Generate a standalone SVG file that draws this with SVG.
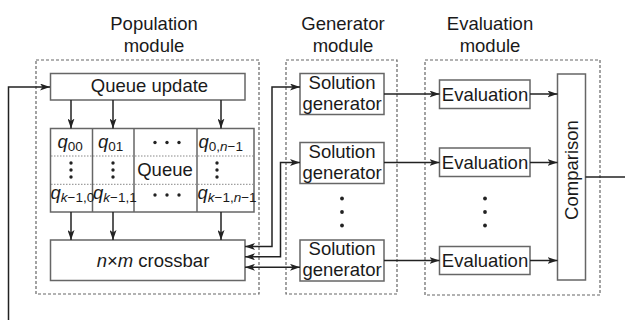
<svg xmlns="http://www.w3.org/2000/svg" width="625" height="320" viewBox="0 0 625 320">
  <defs>
    <marker id="arrow" viewBox="0 0 10 7" refX="10" refY="3.5" markerWidth="10" markerHeight="7" markerUnits="userSpaceOnUse" orient="auto-start-reverse">
      <path d="M0,0 L10,3.5 L0,7 L2.5,3.5 z" fill="#222"/>
    </marker>
    <style>
      text { font-family: "Liberation Sans", Arial, sans-serif; font-size: 18.5px; fill: #1a1a1a; }
      .mid { text-anchor: middle; }
      .box { fill: #fff; stroke: #666; stroke-width: 1.5; }
      .module { fill: none; stroke: #666; stroke-width: 1.2; stroke-dasharray: 3 2; }
      .grid { fill: none; stroke: #666; stroke-width: 1.5; }
      .row { fill: none; stroke: #888; stroke-width: 1; stroke-dasharray: 1.5 1.5; }
      .wire { fill: none; stroke: #222; stroke-width: 1.5; }
      .arr { marker-end: url(#arrow); }
      .both { marker-start: url(#arrow); marker-end: url(#arrow); }
      .dot { fill: #222; }
      .sub { font-size: 13.5px; }
      .it { font-style: italic; }
    </style>
  </defs>

  <!-- module titles -->
  <text class="mid" x="154" y="30">Population</text>
  <text class="mid" x="154" y="52">module</text>
  <text class="mid" x="343" y="30">Generator</text>
  <text class="mid" x="343" y="52">module</text>
  <text class="mid" x="490" y="30">Evaluation</text>
  <text class="mid" x="490" y="52">module</text>

  <!-- module frames -->
  <rect class="module" x="36" y="60" width="223" height="234"/>
  <rect class="module" x="286" y="60" width="111" height="234"/>
  <rect class="module" x="425" y="60" width="175" height="235"/>

  <!-- population module -->
  <g id="queue-update">
    <rect class="box" x="50.5" y="73.5" width="194.5" height="26.5"/>
    <text class="mid" x="149.5" y="92">Queue update</text>
  </g>

  <g id="queue">
    <rect class="grid" x="50.5" y="128.5" width="203.5" height="83.5"/>
    <line class="grid" x1="92.5" y1="128.5" x2="92.5" y2="212"/>
    <line class="grid" x1="134" y1="128.5" x2="134" y2="212"/>
    <line class="grid" x1="197" y1="128.5" x2="197" y2="212"/>
    <line class="row" x1="51" y1="156" x2="253.5" y2="156"/>
    <line class="row" x1="51" y1="184.3" x2="253.5" y2="184.3"/>
    <!-- first row -->
    <text x="57.5" y="148"><tspan class="it">q</tspan><tspan class="sub" dy="3">00</tspan></text>
    <text x="98" y="148"><tspan class="it">q</tspan><tspan class="sub" dy="3">01</tspan></text>
    <circle class="dot" cx="155" cy="142.5" r="1.7"/>
    <circle class="dot" cx="167" cy="142.5" r="1.7"/>
    <circle class="dot" cx="179" cy="142.5" r="1.7"/>
    <text x="198.5" y="148"><tspan class="it">q</tspan><tspan class="sub" dy="3">0,</tspan><tspan class="sub it">n</tspan><tspan class="sub">−1</tspan></text>
    <!-- middle row -->
    <circle class="dot" cx="71" cy="163" r="1.7"/>
    <circle class="dot" cx="71" cy="170" r="1.7"/>
    <circle class="dot" cx="71" cy="177" r="1.7"/>
    <circle class="dot" cx="113" cy="163" r="1.7"/>
    <circle class="dot" cx="113" cy="170" r="1.7"/>
    <circle class="dot" cx="113" cy="177" r="1.7"/>
    <text class="mid" x="165" y="176">Queue</text>
    <circle class="dot" cx="217" cy="163" r="1.7"/>
    <circle class="dot" cx="217" cy="170" r="1.7"/>
    <circle class="dot" cx="217" cy="177" r="1.7"/>
    <!-- last row -->
    <text x="50.5" y="199"><tspan class="it">q</tspan><tspan class="sub" dy="3"><tspan class="it">k</tspan>−1,0</tspan></text>
    <text x="93" y="199"><tspan class="it">q</tspan><tspan class="sub" dy="3"><tspan class="it">k</tspan>−1,1</tspan></text>
    <circle class="dot" cx="155" cy="195" r="1.7"/>
    <circle class="dot" cx="167" cy="195" r="1.7"/>
    <circle class="dot" cx="179" cy="195" r="1.7"/>
    <text x="197.5" y="199"><tspan class="it">q</tspan><tspan class="sub" dy="3"><tspan class="it">k</tspan>−1,<tspan class="it">n</tspan>−1</tspan></text>
  </g>

  <g id="crossbar">
    <rect class="box" x="50.5" y="240" width="194.5" height="40.5"/>
    <text class="mid" x="153" y="267"><tspan class="it">n</tspan>×<tspan class="it">m</tspan> crossbar</text>
  </g>

  <!-- generator module -->
  <g id="solution-generator-1">
    <rect class="box" x="300" y="73.5" width="84" height="41"/>
    <text class="mid" x="342" y="88.5">Solution</text>
    <text class="mid" x="342" y="109.5">generator</text>
  </g>
  <g id="solution-generator-2">
    <rect class="box" x="300" y="142.5" width="84" height="41"/>
    <text class="mid" x="342" y="157.5">Solution</text>
    <text class="mid" x="342" y="178.5">generator</text>
  </g>
  <g id="generator-ellipsis">
    <circle class="dot" cx="342" cy="198.5" r="1.9"/>
    <circle class="dot" cx="342" cy="212" r="1.9"/>
    <circle class="dot" cx="342" cy="225.5" r="1.9"/>
  </g>
  <g id="solution-generator-3">
    <rect class="box" x="300" y="240" width="84" height="41"/>
    <text class="mid" x="342" y="254.5">Solution</text>
    <text class="mid" x="342" y="275.5">generator</text>
  </g>

  <!-- evaluation module -->
  <g id="evaluation-1">
    <rect class="box" x="439.5" y="80" width="90.5" height="28.5"/>
    <text class="mid" x="485" y="100.5">Evaluation</text>
  </g>
  <g id="evaluation-2">
    <rect class="box" x="439.5" y="148" width="90.5" height="28.5"/>
    <text class="mid" x="485" y="168.5">Evaluation</text>
  </g>
  <g id="evaluation-ellipsis">
    <circle class="dot" cx="485" cy="198.5" r="1.9"/>
    <circle class="dot" cx="485" cy="212" r="1.9"/>
    <circle class="dot" cx="485" cy="225.5" r="1.9"/>
  </g>
  <g id="evaluation-3">
    <rect class="box" x="439.5" y="246.5" width="90.5" height="28"/>
    <text class="mid" x="485" y="266.5">Evaluation</text>
  </g>
  <g id="comparison">
    <rect class="box" x="557.5" y="74" width="28" height="206"/>
    <text class="mid" transform="translate(578 170) rotate(-90)" x="0" y="0">Comparison</text>
  </g>

  <!-- connectors -->
  <g id="connectors">
    <!-- feedback into queue update -->
    <path class="wire arr" d="M8.5,320 V87 H50"/>
    <!-- queue update to queue -->
    <line class="wire arr" x1="71" y1="100" x2="71" y2="128.5"/>
    <line class="wire arr" x1="113" y1="100" x2="113" y2="128.5"/>
    <line class="wire arr" x1="221" y1="100" x2="221" y2="128.5"/>
    <!-- queue to crossbar -->
    <line class="wire arr" x1="71" y1="212" x2="71" y2="240"/>
    <line class="wire arr" x1="113" y1="212" x2="113" y2="240"/>
    <line class="wire arr" x1="221" y1="212" x2="221" y2="240"/>
    <!-- crossbar to solution generators -->
    <path class="wire both" d="M245,246.5 H272 V87 H300"/>
    <path class="wire both" d="M245,256.8 H280.5 V162.5 H300"/>
    <path class="wire both" d="M245,267.3 H300"/>
    <!-- solution generators to evaluation -->
    <line class="wire arr" x1="384" y1="94" x2="439.5" y2="94"/>
    <line class="wire arr" x1="384" y1="162.5" x2="439.5" y2="162.5"/>
    <line class="wire arr" x1="384" y1="260.5" x2="439.5" y2="260.5"/>
    <!-- evaluation to comparison -->
    <line class="wire arr" x1="530" y1="94" x2="557.5" y2="94"/>
    <line class="wire arr" x1="530" y1="162.5" x2="557.5" y2="162.5"/>
    <line class="wire arr" x1="530" y1="260.5" x2="557.5" y2="260.5"/>
    <!-- comparison output -->
    <line class="wire" x1="585.5" y1="177" x2="625" y2="177"/>
  </g>
</svg>
